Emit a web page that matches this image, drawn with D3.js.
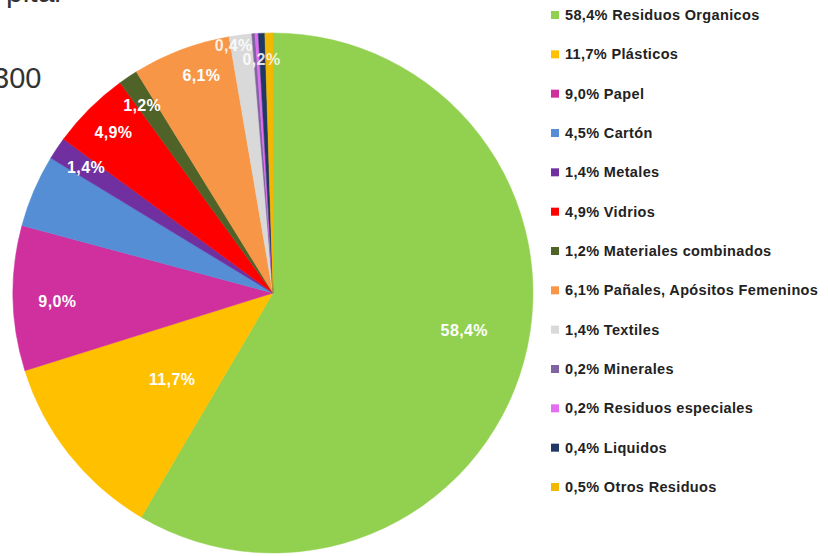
<!DOCTYPE html>
<html>
<head>
<meta charset="utf-8">
<script src="https://cdn.jsdelivr.net/npm/d3@7"></script>
<style>
  html, body { margin: 0; padding: 0; background: #fff; }
  svg { display: block; }
</style>
</head>
<body>
<svg id="chart" width="828" height="556"></svg>
<script>
// ---- data ----
const categories = [
  "Residuos Organicos", "Plásticos", "Papel", "Cartón", "Metales", "Vidrios",
  "Materiales combinados", "Pañales, Apósitos Femeninos", "Textiles",
  "Minerales", "Residuos especiales", "Liquidos", "Otros Residuos"
];
const values = [58.4, 11.7, 9.0, 4.5, 1.4, 4.9, 1.2, 6.1, 1.4, 0.2, 0.2, 0.4, 0.5];
const colors = [
  "#92d050", "#ffc000", "#d02f9e", "#558ed5", "#7030a0", "#ff0000",
  "#4f6228", "#f79646", "#d9d9d9", "#8064a2", "#e36cf0", "#1f3864", "#f2b700"
];
// data labels shown on the pie (slice index, text)
const labelSlices = [0, 1, 2, 4, 5, 6, 7, 9, 11];
const labelTexts  = ["58,4%", "11,7%", "9,0%", "1,4%", "4,9%", "1,2%", "6,1%", "0,2%", "0,4%"];
// label placement: radius fraction and angular nudge (degrees)
const labelRadius = [0.75, 0.51, 0.83, 0.865, 0.87, 0.88, 0.88, 0.9, 0.965];
const labelNudge  = [-4, -2, -1, 0, 0, -1, 2.5, 1.5, -6.5];

const fmt = v => d3.format(".1f")(v).replace(".", ",");

const svg = d3.select("#chart");

// partial title text cut off by the frame
svg.append("text").attr("x", 6).attr("y", 2)
  .attr("font-family", "Liberation Sans, Arial, sans-serif")
  .attr("font-size", 30).attr("fill", "#333").text("pital");
svg.append("text").attr("x", -7).attr("y", 88)
  .attr("font-family", "Liberation Sans, Arial, sans-serif")
  .attr("font-size", 29).attr("fill", "#333").text("300");

// ---- pie ----
const cx = 273, cy = 293, R = 260;
const pie = d3.pie().sort(null).value(d => d).startAngle(0).endAngle(2 * Math.PI);
const arcs = pie(values);
const arc = d3.arc().innerRadius(0).outerRadius(R);

const g = svg.append("g").attr("transform", `translate(${cx},${cy})`);
g.selectAll("path.slice").data(arcs).enter().append("path")
  .attr("class", "slice")
  .attr("d", arc)
  .attr("fill", (d, i) => colors[i])
  .attr("stroke", (d, i) => colors[i])
  .attr("stroke-width", 0.5);

labelSlices.forEach((si, k) => {
  const a = arcs[si];
  const mid = (a.startAngle + a.endAngle) / 2 + labelNudge[k] * Math.PI / 180;
  const r = labelRadius[k] * R;
  g.append("text")
    .attr("x", r * Math.sin(mid))
    .attr("y", -r * Math.cos(mid))
    .attr("text-anchor", "middle")
    .attr("dominant-baseline", "central")
    .attr("font-family", "Liberation Sans, Arial, sans-serif")
    .attr("font-weight", "bold")
    .attr("font-size", 16)
    .attr("letter-spacing", 0.4)
    .attr("fill", "#fff")
    .attr("fill-opacity", si >= 8 ? 0.85 : 1)
    .text(labelTexts[k]);
});

// ---- legend ----
const legendY = d3.scalePoint().domain(d3.range(categories.length)).range([15, 487]);
const lg = svg.append("g");
categories.forEach((c, i) => {
  const y = legendY(i);
  lg.append("rect").attr("x", 551).attr("y", y - 4).attr("width", 8).attr("height", 8)
    .attr("fill", colors[i]);
  lg.append("text").attr("x", 565).attr("y", y)
    .attr("dominant-baseline", "central")
    .attr("font-family", "Liberation Sans, Arial, sans-serif")
    .attr("font-weight", "bold")
    .attr("font-size", 14.5)
    .attr("letter-spacing", 0.35)
    .attr("fill", "#222")
    .text(`${fmt(values[i])}% ${c}`);
});
</script>
</body>
</html>
